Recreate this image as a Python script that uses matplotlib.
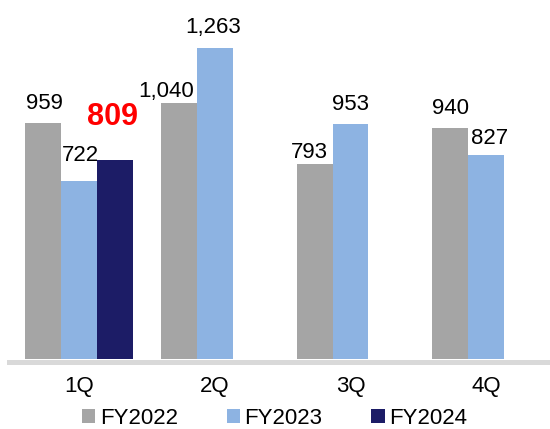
import numpy as np
import matplotlib.pyplot as plt

plt.rcParams['font.family'] = ['Liberation Sans', 'DejaVu Sans']

quarters = ["1Q", "2Q", "3Q", "4Q"]
fy2022 = [959, 1040, 793, 940]
fy2023 = [722, 1263, 953, 827]
fy2024 = [809]
series_names = ["FY2022", "FY2023", "FY2024"]
colors = ["#a5a5a5", "#8db3e2", "#1c1c66"]

# hand placed label offsets in pixels (dx, dy above bar top)
offsets = [
    [(1, 14), (-13, 6), (-5.5, 6), (0, 14)],
    [(1.5, 20), (-1.5, 15), (0, 14), (3, 11)],
    [(-2.5, 35)],
]

fig = plt.figure(figsize=(5.5, 4.29), dpi=100)
ax = fig.add_axes([9 / 550, 70 / 429, 541 / 550, 344.5 / 429])

x = np.arange(len(quarters))
w = 0.264
all_series = [fy2022, fy2023, fy2024]
for k, vals in enumerate(all_series):
    xs = x[:len(vals)] + (k - 1) * w
    ax.bar(xs, vals, width=w, color=colors[k], label=series_names[k])
    for j, v in enumerate(vals):
        dx, dy = offsets[k][j]
        if k == 2:
            ax.annotate(f"{v:,}", (xs[j], v), xytext=(dx, dy), textcoords="offset pixels",
                        ha="center", va="baseline", fontsize=22, fontweight="bold", color="#ff0000")
        else:
            ax.annotate(f"{v:,}", (xs[j], v), xytext=(dx, dy), textcoords="offset pixels",
                        ha="center", va="baseline", fontsize=16, color="black")

ax.set_xlim(-0.515, 3.47)
ax.set_ylim(0, 1400)
ax.set_xticks(x)
ax.set_xticklabels(quarters)
ax.tick_params(axis="x", length=0, pad=10, labelsize=16)
ax.set_yticks([])
for s in ["top", "right", "left"]:
    ax.spines[s].set_visible(False)
ax.spines["bottom"].set_color("#d9d9d9")
ax.spines["bottom"].set_linewidth(3.6)
ax.spines["bottom"].set_position(("outward", 2.5))

fig.legend(loc="center", bbox_to_anchor=(274.5 / 550, 1 - 418.5 / 429), ncol=3, frameon=False,
           fontsize=16, handlelength=0.6, handleheight=0.6, handletextpad=0.2, columnspacing=2.2,
           borderpad=0)

fig.savefig("out.png", dpi=100)
